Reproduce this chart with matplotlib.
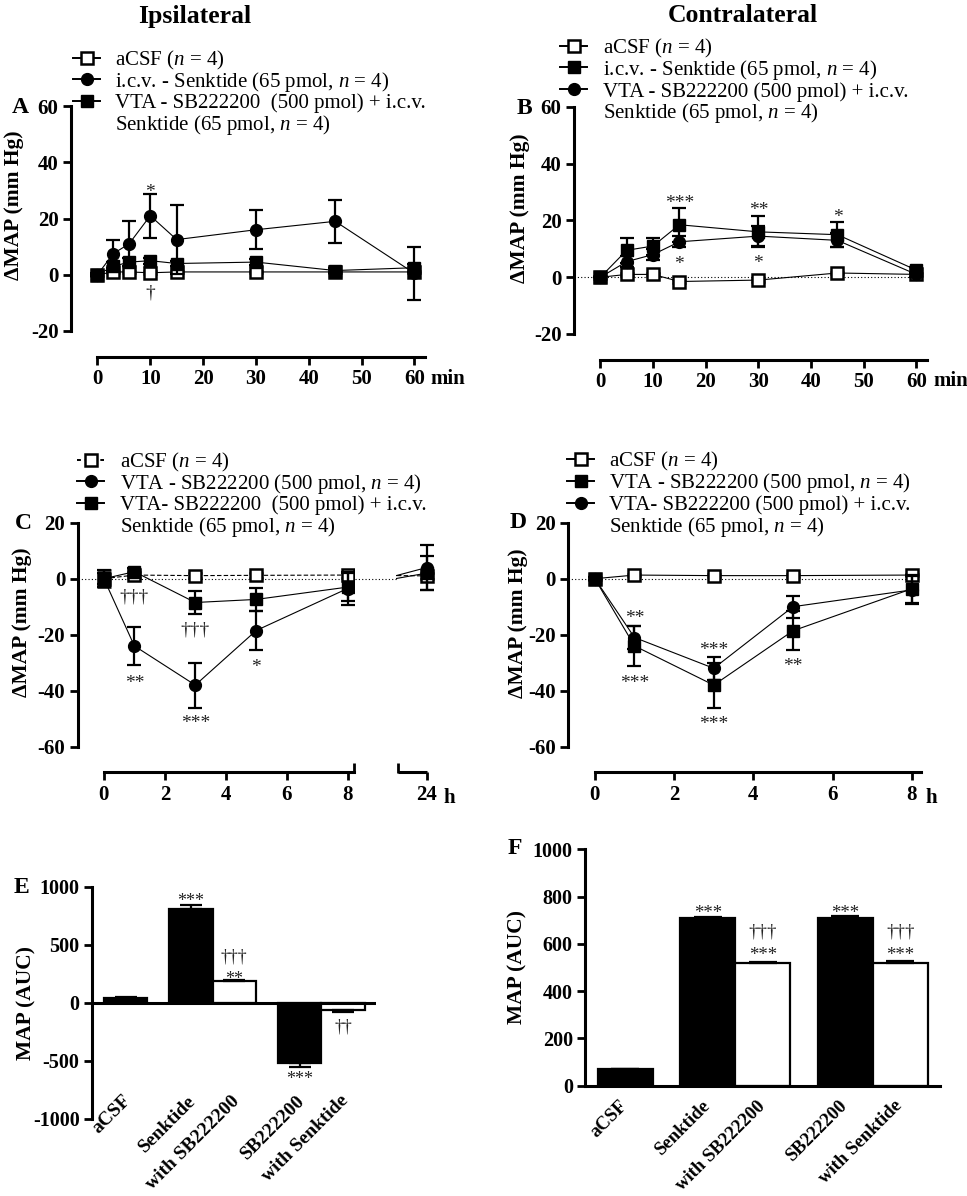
import numpy as np
import matplotlib
matplotlib.use('Agg')
import matplotlib.pyplot as plt
import matplotlib.transforms as mtransforms
from matplotlib.patches import Rectangle

plt.rcParams['font.family'] = 'Liberation Serif'
plt.rcParams['mathtext.fontset'] = 'custom'
plt.rcParams['mathtext.rm'] = 'Liberation Serif'
plt.rcParams['mathtext.it'] = 'Liberation Serif:italic'
plt.rcParams['axes.unicode_minus'] = False

# ---- data ----
# A : ipsilateral, minutes
t_a = [0, 3, 6, 10, 15, 30, 45, 60]
a_acsf = [0, 1, 1, 0.7, 1, 1, 1, 1]
a_acsf_err = [0.5, 0.5, 0.5, 0.5, 0.5, 0.5, 0.5, 0.5]
a_senk = [0, 7.5, 11, 21, 12.5, 16, 19, 0.5]
a_senk_err = [0, 5, 8, 7.8, 12.4, 7, 7.7, 9.4]
a_sbsenk = [0, 3, 4.5, 5, 4, 4.5, 1.5, 2.5]
a_sbsenk_err = [0.5, 1.5, 1.5, 1, 1, 1, 1, 1.5]

# B : contralateral, minutes
t_b = [0, 5, 10, 15, 30, 45, 60]
b_acsf = [0, 1, 1, -1.5, -1, 1.5, 1]
b_acsf_err = [0.5, 0.5, 0.5, 0.5, 0.5, 0.5, 0.5]
b_senk = [0, 9.5, 11, 18.5, 16, 15, 2.5]
b_senk_err = [0, 4.4, 3, 6, 5.5, 4.3, 1]
b_sbsenk = [0, 5.5, 8, 12.5, 14.5, 13, 1]
b_sbsenk_err = [0, 2, 2, 2, 3.5, 2.5, 1]

# C : ipsilateral, hours
t_c = [0, 1, 3, 5, 8, 24]
c_acsf = [0, 1.3, 1.1, 1.2, 1.3, 1]
c_acsf_err = [3, 1, 1, 1, 1, 1]
c_sb = [0, -24, -38, -18.5, -3.5, 4]
c_sb_err = [2, 6.8, 8, 7, 6, 8]
c_sbsenk = [0, 2.5, -8.5, -7.4, -3, 2]
c_sbsenk_err = [3, 1.5, 4, 4, 5, 6]

# D : contralateral, hours
t_d = [0, 1, 3, 5, 8]
d_acsf = [0, 1.3, 1.1, 1.1, 1.3]
d_acsf_err = [0.5, 0.5, 0.5, 0.5, 0.5]
d_sb = [0, -24, -38, -18.6, -3.6]
d_sb_err = [0.5, 7, 8, 7, 5]
d_sbsenk = [0, -21, -32, -10, -4]
d_sbsenk_err = [0.5, 4, 4, 4, 5]

# E / F : AUC
bar_labels = ['aCSF', 'Senktide', 'with SB222200', 'SB222200', 'with Senktide']
bar_fill = ['black', 'black', 'white', 'black', 'white']
e_vals = [45, 807, 184, -520, -60]
e_err = [5, 35, 10, 28, 15]
f_vals = [70, 710, 520, 710, 520]
f_err = [2, 5, 5, 8, 8]

# significance marks: (x, y, text)
a_marks = [(10, 31, '*'), (10, -6.5, '†')]
b_marks = [(15, 27.8, '***'), (30, 25.2, '**'), (45, 22.8, '*'),
           (15, 6.4, '*'), (30, 6.8, '*')]
c_marks = [(1, -6.4, '†††'), (1, -35.4, '**'), (3, -18.3, '†††'),
           (3, -50, '***'), (5, -30, '*')]
d_marks = [(1, -12.4, '**'), (1, -35.4, '***'), (3, -23.7, '***'),
           (3, -50.1, '***'), (5, -29.6, '**')]
e_marks = [(1, 911, '***'), (2, 394, '†††'), (2, 247, '**'),
           (3, -620, '***'), (4, -204, '††')]
f_marks = [(1, 750, '***'), (2, 652, '†††'), (2, 571, '***'),
           (3, 750, '***'), (4, 652, '†††'), (4, 571, '***')]

# ---- figure ----
W, H = 967, 1196
fig = plt.figure(figsize=(W / 100, H / 100), dpi=100)
PT = 72 / 100  # points per pixel


def add_ax(l, t, r, b):
    return fig.add_axes([l / W, 1 - b / H, (r - l) / W, (b - t) / H])


OPEN_SQ = dict(marker='s', ms=9, mfc='white', mec='black', mew=1.8)
FILL_SQ = dict(marker='s', ms=9, mfc='black', mec='black')
CIRCLE = dict(marker='o', ms=8.5, mfc='black', mec='black')


def series(ax, x, y, err, style, ls='-', z=3):
    ax.errorbar(x, y, yerr=err, color='black', lw=0.8, ls=ls, elinewidth=1.6,
                capsize=5, capthick=1.6, zorder=z, **style)


def mark(ax, x, y, s, fs=14):
    dy = -0.27 * fs if '*' in s else 0
    ax.annotate(s, (x, y), xytext=(0, dy), textcoords='offset points',
                ha='center', va='center', fontsize=fs, color='#222222',
                annotation_clip=False)


def bold_ticks(ax):
    for lab in ax.get_xticklabels() + ax.get_yticklabels():
        lab.set_fontweight('bold')


def time_axes(ax, ylim, yticks, xlim, xbounds, xticks, xlabels, drop):
    ax.set_xlim(xlim)
    ax.set_ylim(ylim)
    ax.spines[['top', 'right']].set_visible(False)
    ax.spines['left'].set_bounds(*ylim)
    ax.spines['bottom'].set_position(('outward', drop * PT))
    ax.spines['bottom'].set_bounds(*xbounds)
    for s in ('left', 'bottom'):
        ax.spines[s].set_linewidth(2.2)
    ax.set_yticks(yticks)
    ax.set_xticks(xticks, xlabels)
    ax.tick_params(length=6, width=2, labelsize=15, pad=3)
    ax.patch.set_visible(False)
    bold_ticks(ax)


# Panel A
axA = add_ax(71, 106, 425, 331)
series(axA, t_a, a_acsf, a_acsf_err, OPEN_SQ, z=3)
series(axA, t_a, a_senk, a_senk_err, CIRCLE, z=4)
series(axA, t_a, a_sbsenk, a_sbsenk_err, FILL_SQ, z=5)
time_axes(axA, (-20, 60), [-20, 0, 20, 40, 60], (-5, 62), (0, 62),
          [0, 10, 20, 30, 40, 50, 60], ['0', '10', '20', '30', '40', '50', '60'], 26)
for x, y, s in a_marks:
    mark(axA, x, y, s)

# Panel B
axB = add_ax(574, 107, 927, 334)
axB.axhline(0, color='black', lw=0.8, ls=(0, (1, 2)), xmax=0.97, zorder=1)
series(axB, t_b, b_acsf, b_acsf_err, OPEN_SQ, z=3)
series(axB, t_b, b_sbsenk, b_sbsenk_err, CIRCLE, z=4)
series(axB, t_b, b_senk, b_senk_err, FILL_SQ, z=5)
time_axes(axB, (-20, 60), [-20, 0, 20, 40, 60], (-5, 62), (0, 62),
          [0, 10, 20, 30, 40, 50, 60], ['0', '10', '20', '30', '40', '50', '60'], 26)
for x, y, s in b_marks:
    mark(axB, x, y, s)

# Panel C (broken time axis: 0-8 h | 24 h)
brk_lo, brk_hi, brk_gap = 8.2, 23.05, 1.45


def c_pos(h):
    h = np.asarray(h, dtype=float)
    return np.where(h <= brk_lo, h, h - (brk_hi - brk_lo) + brk_gap)


axC = add_ax(77.7, 522.7, 439, 746.7)
xc = c_pos(t_c)
series(axC, xc, c_acsf, c_acsf_err, OPEN_SQ, ls=(0, (4, 2)), z=3)
series(axC, xc, c_sb, c_sb_err, CIRCLE, z=4)
series(axC, xc, c_sbsenk, c_sbsenk_err, FILL_SQ, z=5)
time_axes(axC, (-60, 20), [-60, -40, -20, 0, 20], (-0.86, 11.0), (0, brk_lo),
          [0, 2, 4, 6, 8, float(c_pos(24))], ['0', '2', '4', '6', '8', '24'], 25.3)
gap_l, gap_r = brk_lo + 0.03, 9.6
blend = mtransforms.blended_transform_factory(axC.transData, axC.transAxes)
axC.add_patch(Rectangle((gap_l, 0), gap_r - gap_l, 1, transform=blend,
                        facecolor='white', edgecolor='none', zorder=6))
axC.plot([-0.86, gap_r], [0, 0], color='black', lw=0.8, ls=(0, (1, 2)), zorder=1)
axC.plot([gap_l, gap_r], [0, 0], color='black', lw=0.8, ls=(0, (1, 2)), zorder=7)
drop_t = blend + mtransforms.ScaledTranslation(0, -25.3 * PT / 72, fig.dpi_scale_trans)
seg2 = c_pos([brk_hi, 24])
axC.plot(seg2, [0, 0], color='black', lw=2.2, transform=drop_t, clip_on=False,
         solid_capstyle='butt')
axC.plot([brk_lo, seg2[0]], [0.02, 0.02], ls='none', marker='|', ms=7, mew=2,
         color='black', transform=drop_t, clip_on=False)
for x, y, s in c_marks:
    mark(axC, x, y, s)

# Panel D
axD = add_ax(568.3, 522.7, 921, 746.7)
axD.axhline(0, color='black', lw=0.8, ls=(0, (1, 2)), xmax=0.97, zorder=1)
series(axD, t_d, d_acsf, d_acsf_err, OPEN_SQ, z=3)
series(axD, t_d, d_sbsenk, d_sbsenk_err, CIRCLE, z=4)
series(axD, t_d, d_sb, d_sb_err, FILL_SQ, z=5)
time_axes(axD, (-60, 20), [-60, -40, -20, 0, 20], (-0.67, 8.23), (0, 8.23),
          [0, 2, 4, 6, 8], ['0', '2', '4', '6', '8'], 25.3)
for x, y, s in d_marks:
    mark(axD, x, y, s)

# Panels E and F (bars)
bar_x = np.array([0, 1.5, 2.5, 4, 5])


def bar_panel(ax, vals, errs, ylim, yticks, xlim, label_y, label_dx, label_fs,
              capsize, fs_marks, marks):
    vals = np.asarray(vals, dtype=float)
    errs = np.asarray(errs, dtype=float)
    ax.bar(bar_x, vals, width=1, color=bar_fill, edgecolor='black', linewidth=1.6, zorder=2)
    lower = np.where(vals < 0, errs, 0)
    upper = np.where(vals >= 0, errs, 0)
    ax.errorbar(bar_x, vals, yerr=[lower, upper], fmt='none', ecolor='black',
                elinewidth=1.6, capsize=capsize, capthick=1.6, zorder=3)
    ax.set_xlim(xlim)
    ax.set_ylim(ylim)
    ax.spines[['top', 'right']].set_visible(False)
    ax.spines['left'].set_linewidth(2.2)
    ax.set_yticks(yticks)
    ax.set_xticks([])
    ax.tick_params(axis='y', length=6, width=2, labelsize=14.5, pad=3)
    ax.patch.set_visible(False)
    bold_ticks(ax)
    for x, lab in zip(bar_x, bar_labels):
        ax.text(x + label_dx, label_y, lab, rotation=45, ha='right', va='top',
                rotation_mode='anchor', fontsize=label_fs, fontweight='bold')
    for i, y, s in marks:
        mark(ax, bar_x[i], y, s, fs=fs_marks)


axE = add_ax(92, 886.7, 375.7, 1119)
bar_panel(axE, e_vals, e_err, (-1000, 1000), [-1000, -500, 0, 500, 1000],
          (-0.77, 5.75), -770, -0.08, 14, 8, 13, e_marks)
axE.spines['bottom'].set_visible(False)
axE.axhline(0, color='black', lw=2.2, zorder=4)

axF = add_ax(585.3, 849.3, 940, 1085.7)
bar_panel(axF, f_vals, f_err, (0, 1000), [0, 200, 400, 600, 800, 1000],
          (-0.73, 5.72), -50, -0.12, 13.5, 10, 13.5, f_marks)
axF.spines['bottom'].set_linewidth(2.2)

# ---- overlay for titles, letters, keys ----
ov = fig.add_axes([0, 0, 1, 1])
ov.set_xlim(0, W)
ov.set_ylim(H, 0)
ov.axis('off')

ov.text(195, 16, 'Ipsilateral', ha='center', va='center', fontsize=18.5, fontweight='bold')
ov.text(743, 16, 'Contralateral', ha='center', va='center', fontsize=18.5, fontweight='bold')

for lx, ly, letter in [(20, 107.5, 'A'), (524, 108.5, 'B'), (23, 523.5, 'C'),
                       (518, 523, 'D'), (21.7, 887.5, 'E'), (515, 849, 'F')]:
    ov.text(lx, ly, letter, ha='center', va='center', fontsize=17, fontweight='bold')

for lx, ly, lab in [(14, 205, 'ΔMAP (mm Hg)'), (520, 208, 'ΔMAP (mm Hg)'),
                    (22, 622, 'ΔMAP (mm Hg)'), (518, 623, 'ΔMAP (mm Hg)'),
                    (26, 1003, 'MAP (AUC)'), (517, 967, 'MAP (AUC)')]:
    ov.text(lx, ly, lab, ha='center', va='center', rotation=90, fontsize=15.5, fontweight='bold')

for ux, uy, u in [(430, 379, 'min'), (933, 381, 'min'), (443, 798, 'h'), (925, 798, 'h')]:
    ov.text(ux, uy, u, ha='left', va='center', fontsize=15, fontweight='bold')


def key(x0, x_text, baselines, entries, tail):
    for (style, ls, label), base in zip(entries, baselines):
        ym = base - 7.5
        ov.plot([x0, x0 + 27], [ym, ym], color='black', lw=1.4, ls=ls)
        ov.plot([x0 + 13.5], [ym], **style)
        ov.text(x_text, base, label, fontsize=15, va='baseline')
    ov.text(x_text, baselines[3], tail, fontsize=15, va='baseline')


tail = 'Senktide (65 pmol, $n$ = 4)'
key(73, 115, [65, 86.5, 108, 130],
    [(OPEN_SQ, '-', 'aCSF ($n$ = 4)'),
     (CIRCLE, '-', 'i.c.v. - Senktide (65 pmol, $n$ = 4)'),
     (FILL_SQ, '-', 'VTA - SB222200  (500 pmol) + i.c.v.')], tail)
key(560, 603, [53, 74.5, 96.5, 118],
    [(OPEN_SQ, '-', 'aCSF ($n$ = 4)'),
     (FILL_SQ, '-', 'i.c.v. - Senktide (65 pmol, $n$ = 4)'),
     (CIRCLE, '-', 'VTA - SB222200 (500 pmol) + i.c.v.')], tail)
key(77, 120, [467, 488.5, 510, 532],
    [(OPEN_SQ, (0, (2, 2)), 'aCSF ($n$ = 4)'),
     (CIRCLE, '-', 'VTA - SB222200 (500 pmol, $n$ = 4)'),
     (FILL_SQ, '-', 'VTA- SB222200  (500 pmol) + i.c.v.')], tail)
key(567, 609, [466, 488, 510, 532],
    [(OPEN_SQ, '-', 'aCSF ($n$ = 4)'),
     (FILL_SQ, '-', 'VTA - SB222200 (500 pmol, $n$ = 4)'),
     (CIRCLE, '-', 'VTA- SB222200 (500 pmol) + i.c.v.')], tail)

fig.savefig('out.png', dpi=100)
